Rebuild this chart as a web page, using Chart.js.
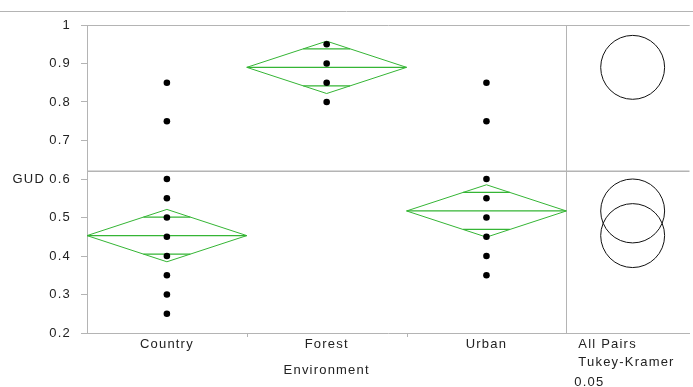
<!DOCTYPE html>
<html><head><meta charset="utf-8">
<script src="https://cdn.jsdelivr.net/npm/chart.js@4"></script>
<style>html,body{margin:0;padding:0;background:#fff}#wrap{width:693px;height:387px;position:relative}</style>
</head><body><div id="wrap"><canvas id="c"></canvas></div>
<script>
const categories = ['Country', 'Forest', 'Urban'];
const countryGUD = [0.25, 0.3, 0.35, 0.4, 0.45, 0.5, 0.55, 0.6, 0.75, 0.85];
const forestGUD = [0.8, 0.85, 0.9, 0.95];
const urbanGUD = [0.35, 0.4, 0.45, 0.5, 0.55, 0.6, 0.75, 0.85];
const groupMeans = [0.453, 0.890, 0.517];
const ciHalfWidth = [0.068, 0.068, 0.068];
const circleRadius = [0.083, 0.083, 0.083];
const grandMean = 0.62;
const yTicks = [0.2, 0.3, 0.4, 0.5, 0.6, 0.7, 0.8, 0.9, 1];
const yTitle = 'GUD';
const xTitle = 'Environment';
const comparisonLabel = ['All Pairs', 'Tukey-Kramer', '0.05'];

const GREEN = '#35b535';
const GRAY = '#b4b4b4';
const TEXT = '#222';
const FONT = '"Liberation Sans", Arial, sans-serif';
const FSIZE = 13;
const SPACING = '1.2px';
const X_MAX = 3.272;
const CIRCLE_X = 2.915;

const groups = [countryGUD, forestGUD, urbanGUD];
const datasets = [];
datasets.push({
  label: 'GUD', type: 'scatter',
  data: groups.flatMap((g, i) => g.map(v => ({x: i, y: v}))),
  backgroundColor: '#000', borderColor: '#000', pointRadius: 3.3, pointHoverRadius: 3.3, borderWidth: 0
});
const lineDs = (data, color, width) => ({
  type: 'scatter', data, showLine: true, borderColor: color, borderWidth: width,
  pointRadius: 0, pointHoverRadius: 0, fill: false, tension: 0
});
const w = 0.5 * (1 - 1 / Math.SQRT2);
groupMeans.forEach((m, i) => {
  const c = ciHalfWidth[i];
  datasets.push(lineDs([{x: i - 0.5, y: m}, {x: i, y: m + c}, {x: i + 0.5, y: m}, {x: i, y: m - c}, {x: i - 0.5, y: m}], GREEN, 1));
  datasets.push(lineDs([{x: i - 0.5, y: m}, {x: i + 0.5, y: m}], GREEN, 1.2));
  const h = c / Math.SQRT2;
  datasets.push(lineDs([{x: i - w, y: m + h}, {x: i + w, y: m + h}], GREEN, 1.2));
  datasets.push(lineDs([{x: i - w, y: m - h}, {x: i + w, y: m - h}], GREEN, 1.2));
});
datasets.push(lineDs([{x: -0.5, y: grandMean}, {x: X_MAX, y: grandMean}], GRAY, 1.5));

const decor = {
  id: 'decor',
  beforeInit(chart) { chart.ctx.letterSpacing = SPACING; },
  beforeDraw(chart) { chart.ctx.letterSpacing = SPACING; },
  beforeDatasetsDraw(chart) {
    const {ctx, chartArea: a, scales: {x, y}} = chart;
    ctx.save();
    ctx.strokeStyle = GRAY; ctx.lineWidth = 1;
    ctx.beginPath();
    ctx.moveTo(0, 11.5); ctx.lineTo(chart.width, 11.5);
    ctx.moveTo(a.left, Math.round(a.top) + 0.5); ctx.lineTo(a.right, Math.round(a.top) + 0.5);
    const dx = Math.round(x.getPixelForValue(2.5)) + 0.5;
    ctx.moveTo(dx, a.top); ctx.lineTo(dx, a.bottom);
    [0.5, 1.5].forEach(v => {
      const px = Math.round(x.getPixelForValue(v)) + 0.5;
      ctx.moveTo(px, a.bottom); ctx.lineTo(px, a.bottom + 4);
    });
    ctx.stroke();
    ctx.restore();
  },
  afterDatasetsDraw(chart) {
    const {ctx, scales: {x, y}} = chart;
    ctx.save();
    ctx.strokeStyle = '#111'; ctx.lineWidth = 1;
    groupMeans.forEach((m, i) => {
      const cy = y.getPixelForValue(m);
      const r = Math.abs(y.getPixelForValue(m + circleRadius[i]) - cy);
      ctx.beginPath();
      ctx.arc(x.getPixelForValue(CIRCLE_X), cy, r, 0, Math.PI * 2);
      ctx.stroke();
    });
    ctx.restore();
  },
  afterDraw(chart) {
    const {ctx, chartArea: a, scales: {x, y}} = chart;
    ctx.save();
    ctx.fillStyle = TEXT;
    ctx.font = FSIZE + 'px ' + FONT;
    ctx.letterSpacing = SPACING;
    ctx.textBaseline = 'middle';
    ctx.textAlign = 'right';
    ctx.fillText(yTitle, 45, (a.top + a.bottom) / 2);
    ctx.textAlign = 'center';
    ctx.fillText(xTitle, (x.getPixelForValue(-0.5) + x.getPixelForValue(2.5)) / 2, 370);
    ctx.textAlign = 'left';
    const lx = x.getPixelForValue(2.5);
    ctx.fillText(comparisonLabel[0], lx + 12, 344);
    ctx.fillText(comparisonLabel[1], lx + 12, 362);
    ctx.fillText(comparisonLabel[2], lx + 8, 382);
    ctx.restore();
  }
};

new Chart(document.getElementById('c'), {
  type: 'scatter',
  data: {datasets},
  plugins: [decor],
  options: {
    responsive: true, maintainAspectRatio: false, animation: false,
    layout: {padding: {top: 25, left: 0, right: 0, bottom: 0}},
    plugins: {legend: {display: false}, tooltip: {enabled: false}},
    scales: {
      x: {
        type: 'linear', min: -0.5, max: X_MAX,
        afterBuildTicks: s => { s.ticks = categories.map((_, i) => ({value: i})); },
        afterFit: s => { s.height = 54; },
        ticks: {callback: v => categories[v] ?? '', color: TEXT, font: {size: FSIZE, family: FONT}, padding: -4, maxRotation: 0},
        grid: {display: false},
        border: {display: true, color: GRAY, width: 1}
      },
      y: {
        type: 'linear', min: 0.2, max: 1,
        afterBuildTicks: s => { s.ticks = yTicks.map(v => ({value: v})); },
        afterFit: s => { s.width = 87; },
        ticks: {callback: v => v === 1 ? '1' : v.toFixed(1), color: TEXT, font: {size: FSIZE, family: FONT}, padding: 10},
        grid: {drawOnChartArea: false, tickLength: 6, color: GRAY},
        border: {display: true, color: GRAY, width: 1}
      }
    }
  }
});
</script></body></html>
